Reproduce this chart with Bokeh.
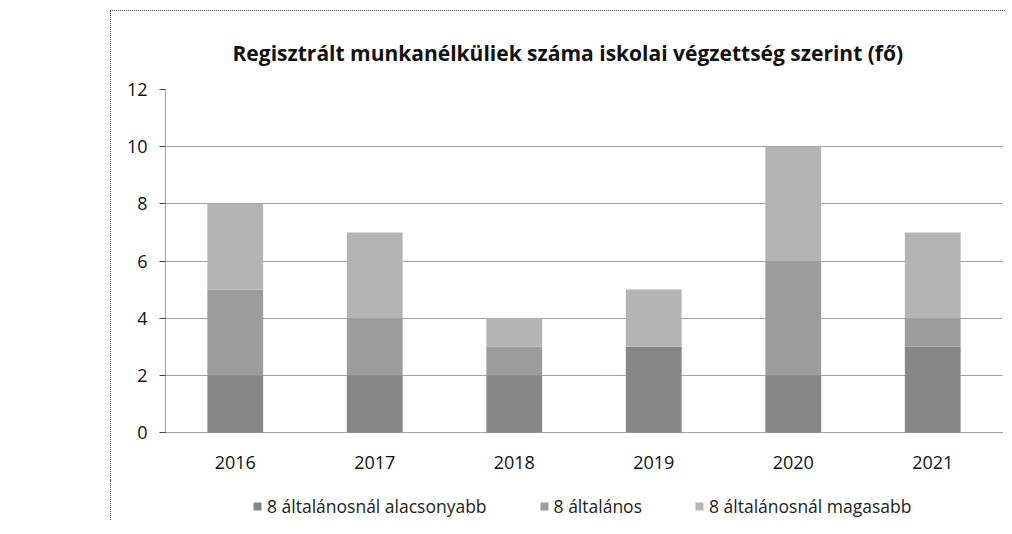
from bokeh.plotting import figure
from bokeh.models import Legend, Range1d, FactorRange, Spacer
from bokeh.layouts import row, column
from bokeh.embed import file_html
from bokeh.resources import INLINE

years = ["2016", "2017", "2018", "2019", "2020", "2021"]
alacsonyabb = [2, 2, 2, 3, 2, 3]
altalanos = [3, 2, 1, 0, 4, 1]
magasabb = [3, 3, 1, 2, 4, 3]
series = ["8 általánosnál alacsonyabb", "8 általános", "8 általánosnál magasabb"]
colors = ["#868686", "#9c9c9c", "#b4b4b4"]

data = {"years": years, series[0]: alacsonyabb, series[1]: altalanos, series[2]: magasabb}

FONT = "Open Sans"
BORDER = "1px dotted #555555"

p = figure(x_range=FactorRange(*years, range_padding=0), y_range=Range1d(0, 12),
           width=895, height=470, output_backend="svg", toolbar_location=None,
           min_border_left=54, min_border_right=4, min_border_top=78, min_border_bottom=49,
           title="Regisztrált munkanélküliek száma iskolai végzettség szerint (fő)")
p.styles = {"border-left": BORDER, "border-top": BORDER}
p.title.align = "left"
p.title.offset = 67
p.title.text_font = FONT
p.title.text_font_style = "bold"
p.title.text_font_size = "21px"
p.title.text_color = "#111111"
p.title.standoff = 46

p.vbar_stack(series, x="years", width=0.4, source=data, color=colors, line_color=None)

p.outline_line_color = None
p.xgrid.grid_line_color = None
p.ygrid.grid_line_color = "#444444"
p.ygrid.grid_line_dash = "1 1"
p.ygrid.grid_line_width = 1
p.yaxis.ticker = [0, 2, 4, 6, 8, 10, 12]
p.yaxis.axis_line_color = "#444444"
p.yaxis.axis_line_dash = "1 1"
p.yaxis.major_tick_line_color = "#444444"
p.yaxis.major_tick_in = 0
p.yaxis.major_tick_out = 6
p.yaxis.minor_tick_line_color = None
p.xaxis.axis_line_color = "#444444"
p.xaxis.axis_line_dash = "1 1"
p.xaxis.major_tick_line_color = None
p.xaxis.major_label_standoff = 17
for ax in (p.xaxis, p.yaxis):
    ax.major_label_text_font = FONT
    ax.major_label_text_font_size = "18px"
    ax.major_label_text_color = "#111111"
p.yaxis.major_label_standoff = 12

# legend strip below the chart (its bars lie outside the visible range)
p2 = figure(x_range=FactorRange(*years), y_range=Range1d(100, 101),
            width=895, height=40, output_backend="svg", toolbar_location=None,
            x_axis_location=None, y_axis_location=None,
            min_border_left=0, min_border_right=0, min_border_top=0, min_border_bottom=0)
p2.styles = {"border-left": BORDER}
p2.outline_line_color = None
p2.xgrid.grid_line_color = None
p2.ygrid.grid_line_color = None
r2 = p2.vbar_stack(series, x="years", width=0.4, source=data, color=colors, line_color=None)
legend = Legend(items=[(s, [rr]) for s, rr in zip(series, r2)], orientation="horizontal",
                location=(87, 2), label_text_font=FONT, label_text_font_size="17.5px",
                label_text_color="#222222", glyph_width=10, glyph_height=10,
                spacing=52, padding=0, margin=0, border_line_color=None,
                background_fill_alpha=0)
p2.add_layout(legend)

layout = column(Spacer(width=10, height=10),
                row(Spacer(width=110, height=10), column(p, p2, spacing=0), spacing=0),
                spacing=0)
open("out.html", "w").write(file_html(layout, INLINE))
